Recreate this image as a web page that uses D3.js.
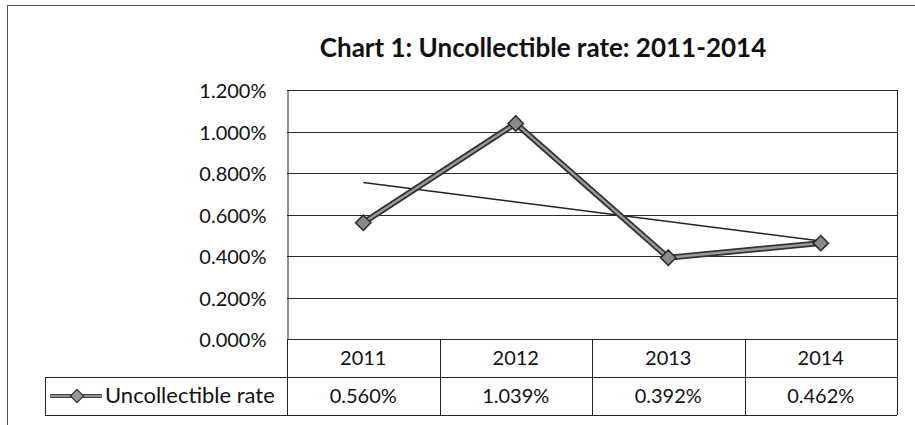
<!DOCTYPE html>
<html>
<head>
<meta charset="utf-8">
<script src="https://cdn.jsdelivr.net/npm/d3@7"></script>
<style>
  html, body { margin: 0; padding: 0; background: #fff; }
  svg { display: block; font-family: Lato, "Open Sans", "Liberation Sans", sans-serif; }
</style>
</head>
<body>
<svg id="chart" width="915" height="425"></svg>
<script>
// Uncollectible rate by year (percent)
const years = ["2011", "2012", "2013", "2014"];
const rates = [0.560, 1.039, 0.392, 0.462];
const yTicks = [0, 0.2, 0.4, 0.6, 0.8, 1.0, 1.2];
const seriesName = "Uncollectible rate";
const title = "Chart 1: Uncollectible rate: 2011-2014";

const svg = d3.select("#chart");
const plot = { left: 287, right: 897, top: 90, bottom: 339 };
const rowH = 38;
const fmtPct = d => d3.format(".3f")(d) + "%";

// outer chart frame (runs off the right and bottom edges)
svg.append("rect")
  .attr("x", 7.5).attr("y", 5.5).attr("width", 940).attr("height", 440)
  .attr("fill", "none").attr("stroke", "#555").attr("stroke-width", 1);

svg.append("text")
  .attr("x", 543).attr("y", 57)
  .attr("text-anchor", "middle")
  .attr("font-size", 26).attr("font-weight", "bold").attr("fill", "#111")
  .text(title);

const x = d3.scaleBand().domain(years).range([plot.left, plot.right]);
const y = d3.scaleLinear().domain([0, 1.2]).range([plot.bottom, plot.top]);

// horizontal gridlines
svg.append("g").selectAll("line").data(yTicks).join("line")
  .attr("x1", plot.left).attr("x2", plot.right + 1)
  .attr("y1", d => Math.round(y(d)) + 0.5).attr("y2", d => Math.round(y(d)) + 0.5)
  .attr("stroke", "#2a2a2a").attr("stroke-width", 1);

// y axis
const yAxis = d3.axisLeft(y).tickValues(yTicks)
  .tickFormat(fmtPct).tickSize(0).tickPadding(21);
const gy = svg.append("g").attr("transform", `translate(${plot.left + 0.5},0)`).call(yAxis);
gy.select(".domain").attr("stroke", "#222");
gy.selectAll("text").attr("font-size", 20).attr("fill", "#111").attr("dy", "0.38em")
  .attr("font-family", "Lato, 'Open Sans', sans-serif");

// data table below the plot
const tableLeft = 45;
const tbl = svg.append("g").attr("stroke", "#222").attr("fill", "none");
tbl.append("line").attr("x1", plot.right + 0.5).attr("x2", plot.right + 0.5)
  .attr("y1", plot.top).attr("y2", plot.bottom + 2 * rowH);
tbl.append("line").attr("x1", tableLeft).attr("x2", plot.right)
  .attr("y1", plot.bottom + rowH + 0.5).attr("y2", plot.bottom + rowH + 0.5);
tbl.append("line").attr("x1", tableLeft).attr("x2", plot.right)
  .attr("y1", plot.bottom + 2 * rowH + 0.5).attr("y2", plot.bottom + 2 * rowH + 0.5);
tbl.append("line").attr("x1", tableLeft + 0.5).attr("x2", tableLeft + 0.5)
  .attr("y1", plot.bottom + rowH).attr("y2", plot.bottom + 2 * rowH);
tbl.selectAll(".sep").data(years).join("line")
  .attr("x1", d => Math.round(x(d)) + 0.5).attr("x2", d => Math.round(x(d)) + 0.5)
  .attr("y1", plot.bottom).attr("y2", plot.bottom + 2 * rowH);

svg.append("g").selectAll("text").data(years).join("text")
  .attr("x", d => x(d) + x.bandwidth() / 2).attr("y", plot.bottom + 26)
  .attr("text-anchor", "middle").attr("font-size", 20).attr("fill", "#111")
  .text(d => d);
svg.append("g").selectAll("text").data(rates).join("text")
  .attr("x", (d, i) => x(years[i]) + x.bandwidth() / 2).attr("y", plot.bottom + rowH + 26)
  .attr("text-anchor", "middle").attr("font-size", 20).attr("fill", "#111")
  .text(fmtPct);

// legend key in the table
const ly = plot.bottom + rowH + 19;
const lg = svg.append("g");
lg.append("line").attr("x1", 50).attr("x2", 102).attr("y1", ly).attr("y2", ly)
  .attr("stroke", "#444").attr("stroke-width", 4);
lg.append("line").attr("x1", 50).attr("x2", 102).attr("y1", ly).attr("y2", ly)
  .attr("stroke", "#aaa").attr("stroke-width", 1.5);
lg.append("path").attr("d", d3.symbol(d3.symbolDiamond2, 110)())
  .attr("transform", `translate(77,${ly})`)
  .attr("fill", "#999").attr("stroke", "#333").attr("stroke-width", 1.2);
lg.append("text").attr("x", 105).attr("y", plot.bottom + rowH + 26)
  .attr("font-size", 22).attr("fill", "#111").text(seriesName);

// linear trendline fitted to the series
const xi = rates.map((d, i) => i + 1);
const mx = d3.mean(xi), my = d3.mean(rates);
const slope = d3.sum(xi, (v, i) => (v - mx) * (rates[i] - my)) / d3.sum(xi, v => (v - mx) ** 2);
const icpt = my - slope * mx;
const cx = d => x(d) + x.bandwidth() / 2;
svg.append("line")
  .attr("x1", cx(years[0])).attr("y1", y(icpt + slope * 1))
  .attr("x2", cx(years[3])).attr("y2", y(icpt + slope * 4))
  .attr("stroke", "#222").attr("stroke-width", 1.4);

// the series line and markers
const line = d3.line().x((d, i) => cx(years[i])).y(d => y(d));
svg.append("path").datum(rates).attr("d", line)
  .attr("fill", "none").attr("stroke", "#333").attr("stroke-width", 6);
svg.append("path").datum(rates).attr("d", line)
  .attr("fill", "none").attr("stroke", "#9a9a9a").attr("stroke-width", 2.4);
svg.append("g").selectAll("path").data(rates).join("path")
  .attr("d", d3.symbol(d3.symbolDiamond2, 150)())
  .attr("transform", (d, i) => `translate(${cx(years[i])},${y(d)})`)
  .attr("fill", "#8a8a8a").attr("stroke", "#2a2a2a").attr("stroke-width", 1.5);
</script>
</body>
</html>
